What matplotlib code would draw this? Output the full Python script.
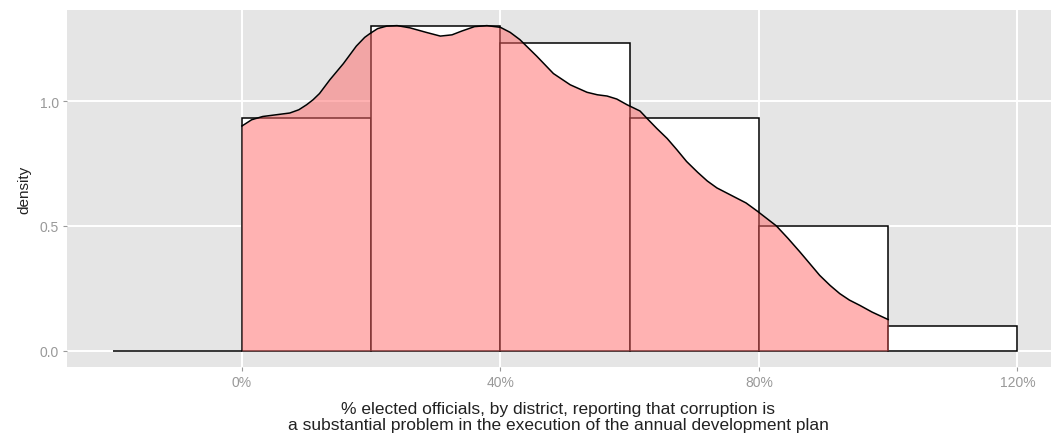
import matplotlib.pyplot as plt
from matplotlib.ticker import FixedLocator

plt.rcParams['font.family'] = ['Liberation Sans', 'DejaVu Sans']

# histogram bins (fraction of officials) and their densities
bin_left = [-0.2, 0.0, 0.2, 0.4, 0.6, 0.8, 1.0]
bin_width = 0.2
bin_density = [0.0, 0.933, 1.3, 1.233, 0.933, 0.5, 0.1]

# kernel density estimate
kde_x = [0.0, 0.015, 0.032, 0.05, 0.074, 0.088, 0.10, 0.11, 0.12, 0.136, 0.157,
         0.177, 0.19, 0.198, 0.21, 0.224, 0.24, 0.26, 0.285, 0.307, 0.325, 0.34,
         0.36, 0.379, 0.40, 0.415, 0.43, 0.456, 0.482, 0.508, 0.534, 0.55,
         0.565, 0.58, 0.596, 0.616, 0.627, 0.642, 0.658, 0.673, 0.688, 0.705,
         0.72, 0.735, 0.75, 0.765, 0.78, 0.797, 0.812, 0.827, 0.845, 0.863,
         0.88, 0.894, 0.91, 0.925, 0.94, 0.956, 0.975, 1.0]
kde_y = [0.90, 0.925, 0.938, 0.944, 0.952, 0.965, 0.985, 1.005, 1.03, 1.085,
         1.15, 1.22, 1.255, 1.27, 1.29, 1.30, 1.302, 1.293, 1.275, 1.26, 1.265,
         1.28, 1.298, 1.302, 1.295, 1.275, 1.246, 1.18, 1.11, 1.065, 1.035,
         1.025, 1.02, 1.008, 0.985, 0.96, 0.93, 0.89, 0.85, 0.805, 0.758, 0.715,
         0.68, 0.652, 0.632, 0.612, 0.592, 0.56, 0.53, 0.50, 0.45, 0.397, 0.345,
         0.302, 0.262, 0.229, 0.203, 0.182, 0.155, 0.125]

x_ticks = [0.0, 0.4, 0.8, 1.2]
x_tick_labels = ['0%', '40%', '80%', '120%']
y_ticks = [0.0, 0.5, 1.0]
y_tick_labels = ['0.0', '0.5', '1.0']

fig = plt.figure(figsize=(10.51, 4.35), dpi=100)
ax = fig.add_axes([0.0642, 0.154, 0.9469, 0.821])
ax.set_facecolor('#E5E5E5')

ax.bar(bin_left, bin_density, width=bin_width, align='edge', color='white',
       edgecolor='black', linewidth=1.1, zorder=2)
ax.fill_between(kde_x, 0, kde_y, color='#FF6666', alpha=0.5, linewidth=0, zorder=3)
ax.plot(kde_x, kde_y, color='black', linewidth=1.1, zorder=4)

ax.set_xlim(-0.27, 1.27)
ax.set_ylim(-0.065, 1.365)
ax.xaxis.set_major_locator(FixedLocator(x_ticks))
ax.yaxis.set_major_locator(FixedLocator(y_ticks))
ax.set_xticklabels(x_tick_labels)
ax.set_yticklabels(y_tick_labels)
ax.grid(True, color='white', linewidth=1.4, zorder=1)
ax.set_axisbelow(True)
for s in ax.spines.values():
    s.set_visible(False)
ax.tick_params(colors='#999999', labelcolor='#999999', labelsize=10, length=3,
               width=0.8, pad=3)

ax.set_ylabel('density', fontsize=11, color='#222222', labelpad=6)
ax.set_xlabel('% elected officials, by district, reporting that corruption is\n'
              'a substantial problem in the execution of the annual development plan',
              fontsize=12.5, color='#222222', linespacing=1.1)
ax.xaxis.set_label_coords((558 - 67.5) / (1062.7 - 67.5), -0.095)

fig.savefig('out.png', dpi=100)
